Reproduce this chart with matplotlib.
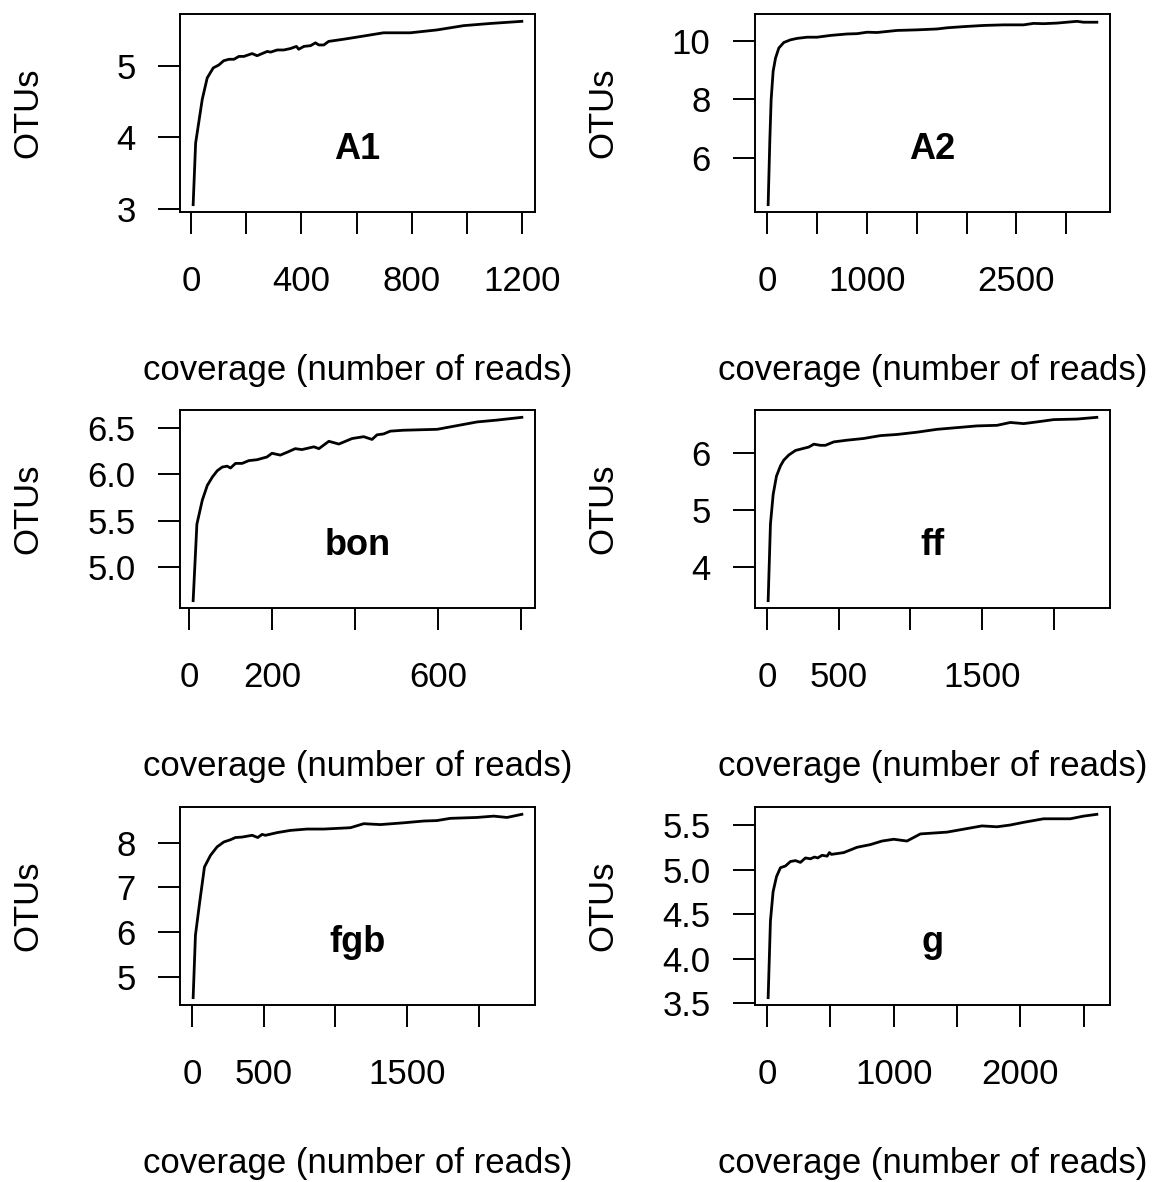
import matplotlib.pyplot as plt

plt.rcParams['font.family'] = ['Liberation Sans', 'DejaVu Sans']

W, H = 1157, 1182

# rarefaction curves: OTUs against coverage (number of reads)
a1_reads = [7, 16, 40, 58, 80, 100, 118, 137, 155, 173, 191, 221, 239, 276, 288, 312, 336, 360,
            382, 390, 409, 433, 451, 463, 481, 499, 553, 602, 650, 698, 795, 892, 989, 1085, 1200]
a1_otus = [3.06, 3.92, 4.53, 4.83, 4.97, 5.01, 5.07, 5.09, 5.09, 5.13, 5.13, 5.17, 5.14, 5.20, 5.19,
           5.22, 5.22, 5.24, 5.27, 5.23, 5.27, 5.28, 5.32, 5.29, 5.29, 5.34, 5.37, 5.40, 5.43, 5.46,
           5.46, 5.50, 5.56, 5.59, 5.62]

a2_reads = [10, 27, 40, 60, 84, 117, 167, 234, 301, 401, 501, 635, 802, 902, 1002, 1102, 1303, 1503,
            1704, 1804, 1971, 2171, 2372, 2572, 2672, 2773, 2906, 3107, 3174, 3307]
a2_otus = [4.42, 6.63, 7.99, 8.96, 9.41, 9.75, 9.94, 10.03, 10.08, 10.12, 10.12, 10.18, 10.23, 10.24,
           10.29, 10.28, 10.35, 10.37, 10.40, 10.44, 10.48, 10.52, 10.54, 10.54, 10.59, 10.58, 10.60,
           10.66, 10.63, 10.63]

bon_reads = [9, 18, 31, 43, 55, 67, 79, 91, 99, 111, 127, 143, 163, 187, 199, 219, 235, 255, 271,
             300, 312, 336, 360, 392, 420, 440, 452, 468, 484, 516, 597, 645, 693, 741, 801]
bon_otus = [4.63, 5.46, 5.72, 5.88, 5.97, 6.04, 6.08, 6.09, 6.07, 6.12, 6.12, 6.15, 6.16, 6.19, 6.23,
            6.21, 6.24, 6.28, 6.27, 6.30, 6.28, 6.36, 6.33, 6.39, 6.41, 6.38, 6.43, 6.44, 6.47, 6.48,
            6.49, 6.53, 6.57, 6.59, 6.62]

ff_reads = [7, 23, 42, 65, 93, 116, 151, 198, 244, 291, 326, 372, 407, 465, 558, 674, 791, 907,
            1047, 1186, 1326, 1465, 1605, 1698, 1791, 1884, 2000, 2163, 2302]
ff_otus = [3.41, 4.75, 5.27, 5.59, 5.77, 5.87, 5.96, 6.04, 6.07, 6.10, 6.15, 6.13, 6.13, 6.19, 6.22,
           6.25, 6.30, 6.32, 6.36, 6.41, 6.44, 6.47, 6.48, 6.53, 6.51, 6.54, 6.58, 6.59, 6.62]

fgb_reads = [7, 23, 53, 86, 128, 174, 221, 267, 302, 349, 419, 458, 488, 512, 593, 686, 802, 919,
             1105, 1198, 1314, 1477, 1616, 1709, 1802, 1895, 1988, 2105, 2198, 2302]
fgb_otus = [4.53, 5.93, 6.68, 7.46, 7.72, 7.91, 8.02, 8.07, 8.12, 8.13, 8.17, 8.12, 8.19, 8.17, 8.23,
            8.28, 8.31, 8.31, 8.34, 8.43, 8.41, 8.45, 8.49, 8.50, 8.55, 8.56, 8.57, 8.60, 8.57, 8.64]

g_reads = [8, 26, 47, 74, 105, 145, 184, 224, 263, 303, 342, 374, 400, 434, 474, 492, 508, 605, 711,
           816, 908, 1000, 1105, 1211, 1316, 1421, 1579, 1697, 1816, 1921, 2026, 2184, 2395, 2500, 2605]
g_otus = [3.56, 4.42, 4.75, 4.92, 5.02, 5.04, 5.09, 5.10, 5.08, 5.13, 5.12, 5.14, 5.13, 5.16, 5.15,
          5.19, 5.17, 5.19, 5.25, 5.28, 5.32, 5.34, 5.32, 5.40, 5.41, 5.42, 5.46, 5.49, 5.48, 5.50,
          5.53, 5.57, 5.57, 5.60, 5.62]

# axis ticks; '' marks a tick whose label is left out
a1_xticks = [0, 200, 400, 600, 800, 1000, 1200]
a1_xlabels = ['0', '', '400', '', '800', '', '1200']
a1_yticks = [3, 4, 5]
a1_ylabels = ['3', '4', '5']

a2_xticks = [0, 500, 1000, 1500, 2000, 2500, 3000]
a2_xlabels = ['0', '', '1000', '', '', '2500', '']
a2_yticks = [6, 8, 10]
a2_ylabels = ['6', '8', '10']

bon_xticks = [0, 200, 400, 600, 800]
bon_xlabels = ['0', '200', '', '600', '']
bon_yticks = [5.0, 5.5, 6.0, 6.5]
bon_ylabels = ['5.0', '5.5', '6.0', '6.5']

ff_xticks = [0, 500, 1000, 1500, 2000]
ff_xlabels = ['0', '500', '', '1500', '']
ff_yticks = [4, 5, 6]
ff_ylabels = ['4', '5', '6']

fgb_xticks = [0, 500, 1000, 1500, 2000]
fgb_xlabels = ['0', '500', '', '1500', '']
fgb_yticks = [5, 6, 7, 8]
fgb_ylabels = ['5', '6', '7', '8']

g_xticks = [0, 500, 1000, 1500, 2000, 2500]
g_xlabels = ['0', '', '1000', '', '2000', '']
g_yticks = [3.5, 4.0, 4.5, 5.0, 5.5]
g_ylabels = ['3.5', '4.0', '4.5', '5.0', '5.5']

samples = ['A1', 'A2', 'bon', 'ff', 'fgb', 'g']
reads = [a1_reads, a2_reads, bon_reads, ff_reads, fgb_reads, g_reads]
otus = [a1_otus, a2_otus, bon_otus, ff_otus, fgb_otus, g_otus]
xticks = [a1_xticks, a2_xticks, bon_xticks, ff_xticks, fgb_xticks, g_xticks]
xlabels = [a1_xlabels, a2_xlabels, bon_xlabels, ff_xlabels, fgb_xlabels, g_xlabels]
yticks = [a1_yticks, a2_yticks, bon_yticks, ff_yticks, fgb_yticks, g_yticks]
ylabels = [a1_ylabels, a2_ylabels, bon_ylabels, ff_ylabels, fgb_ylabels, g_ylabels]

# panel boxes in pixels: left edges of the columns, top edges of the rows
col_left = [180, 755]
row_top = [14, 410, 807]
box_w, box_h = 355, 198

fig = plt.figure(figsize=(W / 100, H / 100), dpi=100)

for i in range(6):
    r, c = i // 2, i % 2
    ax = fig.add_axes([col_left[c] / W, (H - row_top[r] - box_h) / H, box_w / W, box_h / H])
    ax.plot(reads[i], otus[i], color='black', lw=2.0)
    ax.margins(0.04)
    ax.set_xticks(xticks[i])
    ax.set_xticklabels(xlabels[i])
    ax.set_yticks(yticks[i])
    ax.set_yticklabels(ylabels[i])
    ax.tick_params(axis='both', direction='out', length=16, width=1.4, labelsize=25)
    ax.tick_params(axis='x', pad=22)
    ax.tick_params(axis='y', pad=16)
    for sp in ax.spines.values():
        sp.set_linewidth(1.4)
    ax.text(0.5, 0.267, samples[i], transform=ax.transAxes, ha='center', va='baseline',
            fontsize=26, fontweight='bold')
    ax.text(0.5, -0.85, 'coverage (number of reads)', transform=ax.transAxes,
            ha='center', va='baseline', fontsize=25)
    ax.text(-0.428, 0.5, 'OTUs', transform=ax.transAxes, rotation=90,
            ha='center', va='center', fontsize=25)

fig.savefig('out.png', dpi=100)
